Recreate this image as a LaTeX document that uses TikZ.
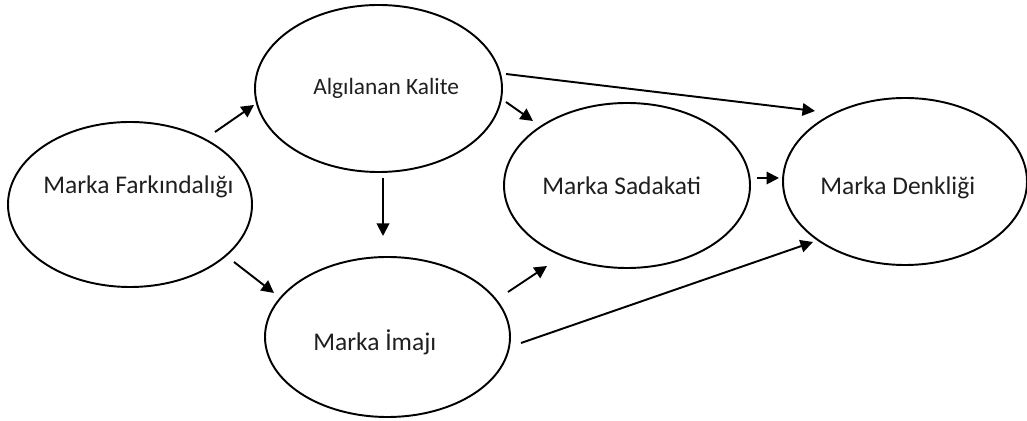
\documentclass[tikz,border=0pt]{standalone}
\usepackage{fontspec}
\setmainfont{Carlito}
\usetikzlibrary{shapes.geometric,arrows.meta}
\begin{document}
\begin{tikzpicture}[x=0.02cm,y=-0.02cm,
  oval/.style={draw,ellipse,line width=1.1pt,inner sep=0pt},
  lbl/.style={anchor=base west,inner sep=0pt,text=black!88,font=\fontsize{14.5pt}{17pt}\selectfont},
  lblsmall/.style={lbl,font=\fontsize{13.3pt}{16pt}\selectfont},
  link/.style={line width=1.1pt,-{Triangle[length=0.25cm,width=0.25cm]}}]
\useasboundingbox (0,0) rectangle (1027,421);

% constructs
\node[oval,minimum width=244*0.02cm,minimum height=165*0.02cm] (fark) at (130,204.5) {};
\node[oval,minimum width=247*0.02cm,minimum height=167*0.02cm] (kalite) at (378.5,88.5) {};
\node[oval,minimum width=245*0.02cm,minimum height=160*0.02cm] (imaj) at (387.5,337) {};
\node[oval,minimum width=246*0.02cm,minimum height=165*0.02cm] (sadakat) at (627,185.5) {};
\node[oval,minimum width=244*0.02cm,minimum height=167*0.02cm] (denk) at (905,181.5) {};

% labels
\node[lbl] (tfark) at (43,194) {Marka Farkındalığı};
\node[lblsmall] (tkalite) at (313,95) {Algılanan Kalite};
\node[lbl] (timaj) at (313,350.5) {Marka İmajı};
\node[lbl] (tsadakat) at (542,195) {Marka Sadakati};
\node[lbl] (tdenk) at (820,195) {Marka Denkliği};

% arrow end points
\coordinate (fk1) at (215,132);  \coordinate (fk2) at (254,105);
\coordinate (fi1) at (234,262);  \coordinate (fi2) at (274,293);
\coordinate (ki1) at (383,178);  \coordinate (ki2) at (383,236);
\coordinate (ks1) at (506,102);  \coordinate (ks2) at (533,121);
\coordinate (kd1) at (506,74);   \coordinate (kd2) at (815,111);
\coordinate (sd1) at (757,178);  \coordinate (sd2) at (779,178);
\coordinate (is1) at (508,292);  \coordinate (is2) at (547,266);
\coordinate (id1) at (521,343);  \coordinate (id2) at (813,242);

% paths between constructs
\draw[link] (fk1) -- (fk2);
\draw[link] (fi1) -- (fi2);
\draw[link] (ki1) -- (ki2);
\draw[link] (ks1) -- (ks2);
\draw[link] (kd1) -- (kd2);
\draw[link] (sd1) -- (sd2);
\draw[link] (is1) -- (is2);
\draw[link] (id1) -- (id2);
\end{tikzpicture}
\end{document}
